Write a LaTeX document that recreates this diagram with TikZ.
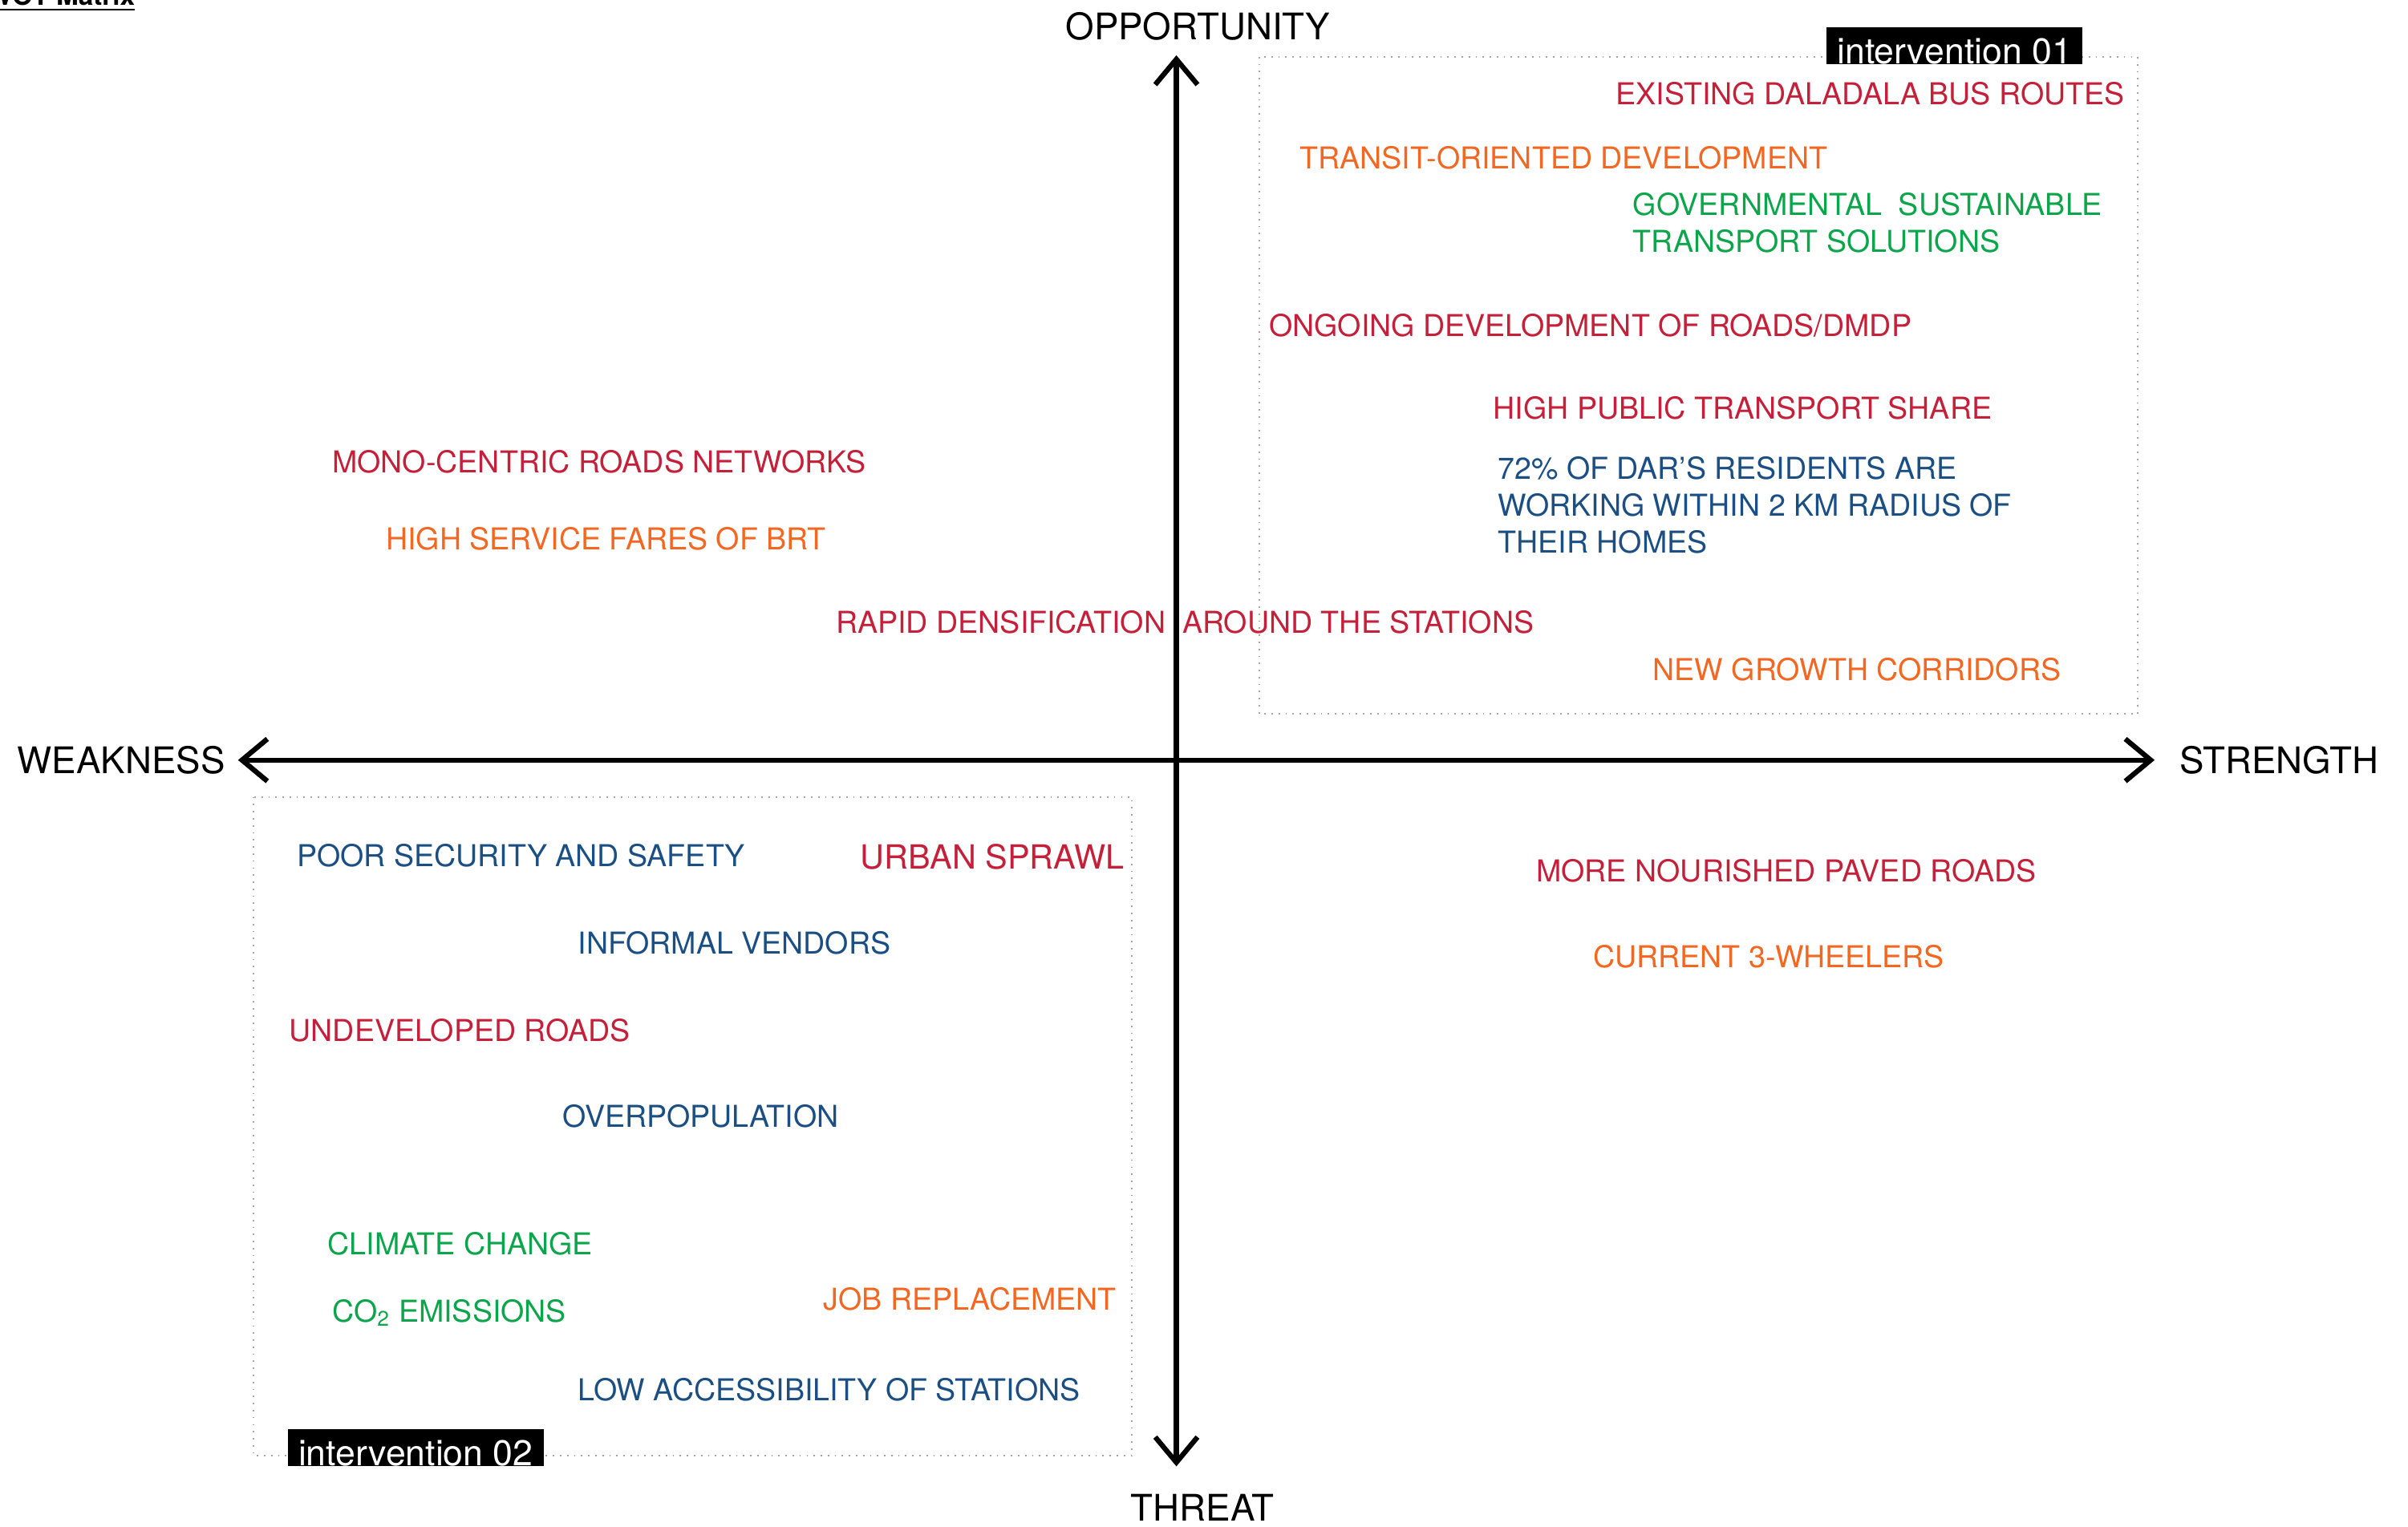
\documentclass[tikz,border=0pt]{standalone}
\usepackage{fontspec}
\setmainfont{TeX Gyre Heros}
\usetikzlibrary{arrows.meta}
\definecolor{swotred}{HTML}{C4203A}
\definecolor{swotorange}{HTML}{F26722}
\definecolor{swotgreen}{HTML}{0DA54B}
\definecolor{swotblue}{HTML}{1B4F83}
\tikzset{
  axis/.style={{Straight Barb[length=9pt,width=15pt]}-{Straight Barb[length=9pt,width=15pt]}, line width=1.8pt, black},
  axislabel/.style={inner sep=0pt, font=\fontsize{13}{15}\selectfont},
  item/.style={anchor=west, inner sep=0pt, align=left, font=\fontsize{10.7}{13}\selectfont},
  itemRed/.style={item, text=swotred},
  itemOrange/.style={item, text=swotorange},
  itemGreen/.style={item, text=swotgreen},
  itemBlue/.style={item, text=swotblue},
  zone/.style={draw=gray!70, dotted, line width=0.5pt},
  tag/.style={fill=black, text=white, anchor=south west, inner xsep=3.8pt, inner ysep=0pt,
    text height=13pt, text depth=0pt, font=\fontsize{12.7}{15}\selectfont},
}

\begin{document}
\begin{tikzpicture}[x=0.019145cm, y=-0.019145cm]
\useasboundingbox (0,0) rectangle (1568,994);
\begin{scope}
\clip (0,0) rectangle (1568,994);
\node[anchor=base west, inner sep=0pt, font=\fontsize{9.5}{11}\selectfont\bfseries] (title) at (-20,3.4) {\underline{SWOT Matrix}};
\end{scope}

\draw[zone] (820,37) rectangle (1392,465);
\draw[zone] (165,519) rectangle (737,948);

\coordinate (wtip) at (155,495);
\coordinate (etip) at (1403,495);
\coordinate (ntip) at (766,36);
\coordinate (stip) at (766,955);
\draw[axis] (wtip) -- (etip);
\draw[axis] (ntip) -- (stip);

\node[axislabel, anchor=west] (weak) at (11,495) {WEAKNESS};
\node[axislabel, anchor=west] (strength) at (1419,495) {STRENGTH};
\node[axislabel] (opp) at (780,17) {OPPORTUNITY};
\node[axislabel] (threat) at (783,982) {THREAT};

\node[tag] (int1) at (1189,42) {intervention 01};
\node[tag] (int2) at (187,955) {intervention 02};

\node[itemRed] (daladala) at (1052,61) {EXISTING DALADALA BUS ROUTES};
\node[itemOrange] (tod) at (846,103) {TRANSIT-ORIENTED DEVELOPMENT};
\node[itemGreen] (gov) at (1063,145) {GOVERNMENTAL\ \ SUSTAINABLE\\TRANSPORT SOLUTIONS};
\node[itemRed] (dmdp) at (826,212) {ONGOING DEVELOPMENT OF ROADS/DMDP};
\node[itemRed] (share) at (972,266) {HIGH PUBLIC TRANSPORT SHARE};
\node[itemBlue] (dar) at (975,329) {72\% OF DAR’S RESIDENTS ARE\\WORKING WITHIN 2 KM RADIUS OF\\THEIR HOMES};
\node[itemRed] (densif) at (544,405) {RAPID DENSIFICATION\ \ AROUND THE STATIONS};
\node[itemOrange] (growth) at (1076,436) {NEW GROWTH CORRIDORS};

\node[itemRed] (mono) at (216,301) {MONO-CENTRIC ROADS NETWORKS};
\node[itemOrange] (fares) at (251,351) {HIGH SERVICE FARES OF BRT};

\node[itemRed] (paved) at (1000,567) {MORE NOURISHED PAVED ROADS};
\node[itemOrange] (wheelers) at (1037,623) {CURRENT 3-WHEELERS};

\node[itemBlue] (security) at (193,557) {POOR SECURITY AND SAFETY};
\node[itemRed, font=\fontsize{11.8}{14}\selectfont] (sprawl) at (560,558) {URBAN SPRAWL};
\node[itemBlue] (vendors) at (376,614) {INFORMAL VENDORS};
\node[itemRed] (undev) at (188,671) {UNDEVELOPED ROADS};
\node[itemBlue] (overpop) at (366,727) {OVERPOPULATION};
\node[itemGreen] (climate) at (213,810) {CLIMATE CHANGE};
\node[itemGreen] (co2) at (216,855) {CO\textsubscript{2} EMISSIONS};
\node[itemOrange] (jobs) at (536,846) {JOB REPLACEMENT};
\node[itemBlue] (access) at (376,905) {LOW ACCESSIBILITY OF STATIONS};
\end{tikzpicture}
\end{document}
